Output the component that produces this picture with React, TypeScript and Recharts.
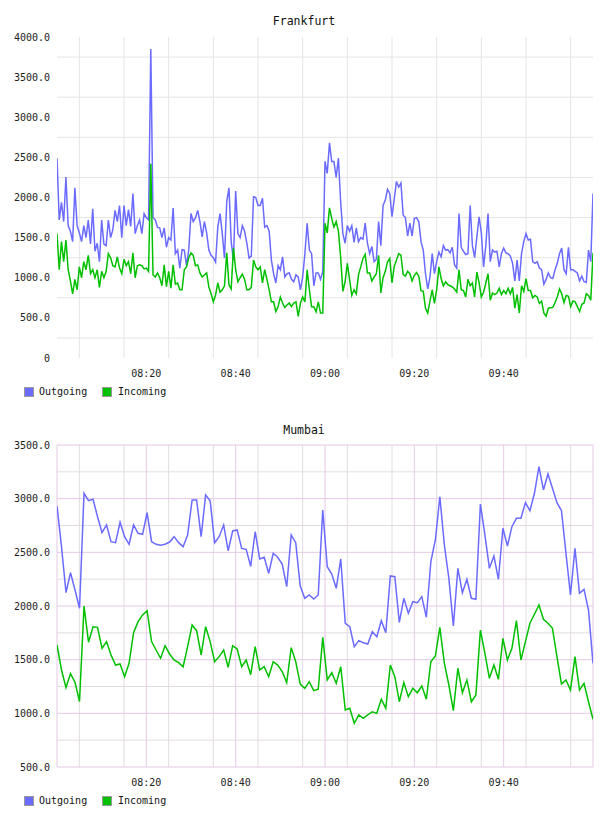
import { CartesianGrid, Line, LineChart, XAxis, YAxis } from "recharts";

// Frankfurt: one sample every 30 s from 08:00 to 10:00
const FRANKFURT_STEP_MIN = 0.5;
const FRANKFURT_OUT = [
  2490, 1720, 1940, 1700, 2255, 1650, 1580, 1450, 2120, 1650,
  1560, 1450, 1650, 1500, 1720, 1420, 1860, 1330, 1430, 1200,
  1720, 1420, 1400, 1720, 1500, 1600, 1840, 1700, 1900, 1500,
  1900, 1650, 1850, 1640, 2050, 1550, 1650, 1720, 1550, 1800,
  1750, 1720, 3850, 1750, 1720, 1630, 1620, 1500, 1620, 1380,
  1500, 1470, 1870, 1300, 1345, 1120, 1350, 1345, 1150, 1350,
  1800, 1700, 1745, 1840, 1700, 1510, 1700, 1560, 1345, 1280,
  1250, 1195, 1630, 1800, 1550, 1245, 1950, 2120, 1450, 1220,
  2080, 1550, 1500, 1650, 1580, 1430, 1245, 1270, 2010, 2000,
  1900, 1900, 1990, 1630, 1650, 1580, 1220, 1050, 935, 1150,
  1100, 1260, 1010, 1050, 1060, 980, 950, 1035, 1010, 850,
  1010, 1300, 1680, 1345, 1300, 900, 1060, 1060, 980, 1080,
  2450, 2300, 2680, 2450, 2450, 2250, 2490, 1950, 1550, 1430,
  1650, 1580, 1650, 1440, 1620, 1450, 1500, 1480, 1680, 1430,
  1300, 1390, 1200, 1230, 1700, 1400, 1900, 1970, 2100, 2050,
  1760, 1980, 2200, 2130, 2180, 1780, 1750, 1520, 1680, 1520,
  1740, 1750, 1700, 1450, 1345, 1050, 860, 1010, 1300, 1050,
  1200, 1320, 1260, 1400, 1345, 1350, 1310, 1380, 1160, 1120,
  1800, 1380, 1330, 1290, 1300, 1900, 1400, 1250, 1510, 1760,
  1560, 1135, 1400, 1800, 1200, 1345, 1320, 1330, 1135, 1300,
  1370, 1310, 1300, 1270, 1180, 960, 1220, 960, 1300, 1450,
  1550, 1470, 1480, 1200, 1180, 1200, 1120, 1100, 920, 980,
  1060, 1000, 990, 1100, 1180, 1300, 1370, 1100, 1050, 1380,
  1100, 1100, 1080, 1060, 960, 1020, 950, 940, 1345, 1200,
  2050,
];
const FRANKFURT_IN = [
  1550, 1100, 1450, 1200, 1470, 1100, 960, 800, 980, 850,
  1135, 1000, 1200, 1100, 1280, 1050, 1100, 1000, 1100, 880,
  1080, 1000, 1080, 1300, 1250, 1150, 1135, 1260, 1120, 1050,
  1230, 1150, 1200, 1050, 1310, 1000, 1150, 1160, 1150, 1110,
  1120, 1080, 2420, 1035, 1010, 1060, 1000, 900, 1160, 890,
  1080, 870, 1160, 920, 935, 850, 850, 1100, 1135, 1250,
  1310, 1280, 1150, 1160, 1060, 1010, 1035, 1060, 885, 800,
  700, 785, 935, 820, 850, 900, 1310, 910, 860, 1370,
  1100, 950, 1000, 1045, 980, 850, 850, 880, 1220, 1135,
  1100, 1135, 935, 1100, 980, 850, 700, 700, 580, 640,
  760, 685, 630, 660, 685, 640, 685, 700, 520, 685,
  760, 700, 1100, 850, 640, 640, 575, 700, 560, 560,
  1680, 1560, 1870, 1740, 1630, 1700, 1580, 1260, 830, 950,
  1180, 980, 780, 850, 800, 1040, 1135, 1240, 1290, 1060,
  1060, 960, 1010, 1050, 1280, 810, 1000, 1080, 1200, 1240,
  935, 1140, 1220, 1300, 1280, 1040, 1020, 1080, 1050, 960,
  1030, 1065, 1020, 840, 830, 620, 560, 710, 850, 680,
  850, 1135, 990, 900, 950, 915, 900, 885, 860, 820,
  1100, 850, 840, 760, 980, 900, 935, 760, 1070, 935,
  760, 820, 935, 1050, 720, 810, 790, 810, 870, 790,
  840, 800, 870, 800, 880, 620, 790, 560, 900, 830,
  990, 840, 840, 750, 780, 760, 680, 710, 560, 520,
  620, 625, 630, 690, 760, 860, 800, 690, 780, 770,
  640, 710, 700, 640, 580, 670, 685, 800, 780, 720,
  1310,
];

// Mumbai: samples come in a little slower than once a minute
const MUMBAI_STEP_MIN = 120 / 119;
const MUMBAI_OUT = [
  2932, 2553, 2124, 2310, 2149, 1979, 3050, 2981, 2994, 2832,
  2683, 2755, 2599, 2590, 2780, 2646, 2575, 2755, 2677, 2668,
  2869, 2599, 2575, 2566, 2575, 2596, 2646, 2590, 2553, 2662,
  2988, 2988, 2646, 3034, 2981, 2590, 2646, 2755, 2515, 2699,
  2708, 2537, 2528, 2370, 2692, 2438, 2454, 2305, 2491, 2454,
  2391, 2180, 2662, 2590, 2186, 2072, 2103, 2065, 2103, 2894,
  2366, 2298, 2165, 2438, 1839, 1807, 1621, 1677, 1658, 1646,
  1761, 1714, 1863, 1751, 2280, 2273, 1848, 2072, 1932, 2040,
  2031, 2087, 1895, 2413, 2615, 3018, 2568, 2258, 1814, 2351,
  2124, 2249, 2072, 2062, 2950, 2662, 2351, 2466, 2249, 2724,
  2559, 2739, 2817, 2817, 2963, 2888, 3050, 3298, 3081, 3230,
  3097, 2963, 2888, 2491, 2103, 2537, 2118, 2155, 1963, 1466,
];
const MUMBAI_IN = [
  1637, 1404, 1240, 1370, 1290, 1110, 2000, 1662, 1807, 1801,
  1606, 1668, 1544, 1450, 1460, 1341, 1466, 1751, 1854, 1916,
  1956, 1668, 1590, 1513, 1630, 1553, 1497, 1472, 1434, 1621,
  1823, 1770, 1544, 1807, 1668, 1481, 1528, 1590, 1429, 1630,
  1599, 1434, 1497, 1360, 1621, 1404, 1434, 1341, 1481, 1450,
  1388, 1286, 1612, 1481, 1273, 1233, 1295, 1211, 1224, 1708,
  1311, 1379, 1280, 1434, 1031, 1047, 907, 985, 954, 985,
  1015, 1000, 1131, 1047, 1450, 1341, 1108, 1286, 1155, 1233,
  1192, 1255, 1131, 1481, 1534, 1801, 1466, 1264, 1025, 1420,
  1192, 1311, 1108, 1171, 1776, 1559, 1326, 1450, 1317, 1699,
  1497, 1606, 1863, 1497, 1668, 1839, 1923, 2009, 1876, 1839,
  1792, 1528, 1273, 1311, 1217, 1528, 1217, 1280, 1108, 944,
];

const TIME_TICKS = [20, 40, 60, 80, 100];
const FIVE_MIN = [5, 10, 15, 25, 30, 35, 45, 50, 55, 65, 70, 75, 85, 90, 95, 105, 110, 115];
const ALL_FIVE_MIN = [5, 10, 15, 20, 25, 30, 35, 40, 45, 50, 55, 60, 65, 70, 75, 80, 85, 90, 95, 100, 105, 110, 115];

const FRANKFURT_TICKS = [0, 500, 1000, 1500, 2000, 2500, 3000, 3500, 4000];
const FRANKFURT_GRID = [250, 750, 1250, 1750, 2250, 2750, 3250, 3750];
const MUMBAI_TICKS = [500, 1000, 1500, 2000, 2500, 3000, 3500];
const MUMBAI_MINOR = [750, 1250, 1750, 2250, 2750, 3250];

const OUT_COLOR = "#6b6bff";
const IN_COLOR = "#00c000";
const FONT = "'DejaVu Sans Mono', monospace";

const fmtTime = (m: number) => {
  const h = 8 + Math.floor(m / 60);
  const mm = Math.round(m % 60);
  return `${String(h).padStart(2, "0")}:${String(mm).padStart(2, "0")}`;
};
const fmtValue = (v: number) => (v === 0 ? "0" : v.toFixed(1));

const build = (out: number[], inc: number[], step: number) =>
  out.map((v, i) => ({ t: i * step, out: v, inc: inc[i] }));

const tickStyle = { fontFamily: FONT, fontSize: 10, fill: "#222" };

function Legend({ top }: { top: number }) {
  const sw = (c: string) => ({
    width: 8,
    height: 8,
    background: c,
    border: "1px solid #999",
    display: "inline-block",
  });
  const row = {
    position: "absolute" as const,
    top,
    left: 24,
    display: "flex",
    alignItems: "center",
    fontFamily: FONT,
    fontSize: 10,
    color: "#111",
    lineHeight: "10px",
  };
  return (
    <div style={row}>
      <span style={sw(OUT_COLOR)} />
      <span style={{ marginLeft: 5, width: 63 }}>Outgoing</span>
      <span style={sw(IN_COLOR)} />
      <span style={{ marginLeft: 6 }}>Incoming</span>
    </div>
  );
}

function Title({ top, text }: { top: number; text: string }) {
  return (
    <div
      style={{
        position: "absolute",
        top,
        left: 0,
        width: 608,
        textAlign: "center",
        fontFamily: FONT,
        fontSize: 11.5,
        color: "#111",
        lineHeight: "14px",
      }}
    >
      {text}
    </div>
  );
}

export default function App() {
  const frankfurt = build(FRANKFURT_OUT, FRANKFURT_IN, FRANKFURT_STEP_MIN);
  const mumbai = build(MUMBAI_OUT, MUMBAI_IN, MUMBAI_STEP_MIN);

  return (
    <div style={{ position: "absolute", left: 0, top: 0, width: 608, height: 816, background: "#fff" }}>
      <Title top={14} text="Frankfurt" />
      <div style={{ position: "absolute", left: 0, top: 0 }}>
        <LineChart width={608} height={408} data={frankfurt} margin={{ top: 37, right: 15, bottom: 20, left: 0 }}>
          <CartesianGrid
            stroke="#e4e4e4"
            horizontalValues={FRANKFURT_GRID}
            verticalValues={ALL_FIVE_MIN}
          />
          <XAxis
            type="number"
            dataKey="t"
            domain={[0, 120]}
            ticks={TIME_TICKS}
            tickFormatter={fmtTime}
            tick={tickStyle}
            axisLine={false}
            tickLine={false}
            tickMargin={6}
            allowDataOverflow
          />
          <YAxis
            domain={[0, 4000]}
            ticks={FRANKFURT_TICKS}
            tickFormatter={fmtValue}
            tick={tickStyle}
            axisLine={false}
            tickLine={false}
            tickMargin={1}
            width={57}
            allowDataOverflow
          />
          <Line type="linear" dataKey="out" stroke={OUT_COLOR} strokeWidth={1.5} dot={false} isAnimationActive={false} />
          <Line type="linear" dataKey="inc" stroke={IN_COLOR} strokeWidth={1.5} dot={false} isAnimationActive={false} />
        </LineChart>
      </div>
      <Legend top={387} />

      <Title top={423} text="Mumbai" />
      <div style={{ position: "absolute", left: 0, top: 408 }}>
        <LineChart width={608} height={408} data={mumbai} margin={{ top: 37, right: 15, bottom: 19, left: 0 }}>
          <CartesianGrid stroke="#e2dce2" horizontalValues={MUMBAI_MINOR} verticalValues={FIVE_MIN} />
          <CartesianGrid
            stroke="#e6c8e6"
            horizontalValues={MUMBAI_TICKS}
            verticalValues={[0, ...TIME_TICKS, 120]}
          />
          <XAxis
            type="number"
            dataKey="t"
            domain={[0, 120]}
            ticks={TIME_TICKS}
            tickFormatter={fmtTime}
            tick={tickStyle}
            axisLine={false}
            tickLine={false}
            tickMargin={6}
            allowDataOverflow
          />
          <YAxis
            domain={[500, 3500]}
            ticks={MUMBAI_TICKS}
            tickFormatter={fmtValue}
            tick={tickStyle}
            axisLine={false}
            tickLine={false}
            tickMargin={1}
            width={57}
            allowDataOverflow
          />
          <Line type="linear" dataKey="out" stroke={OUT_COLOR} strokeWidth={1.5} dot={false} isAnimationActive={false} />
          <Line type="linear" dataKey="inc" stroke={IN_COLOR} strokeWidth={1.5} dot={false} isAnimationActive={false} />
        </LineChart>
      </div>
      <Legend top={796} />
    </div>
  );
}
